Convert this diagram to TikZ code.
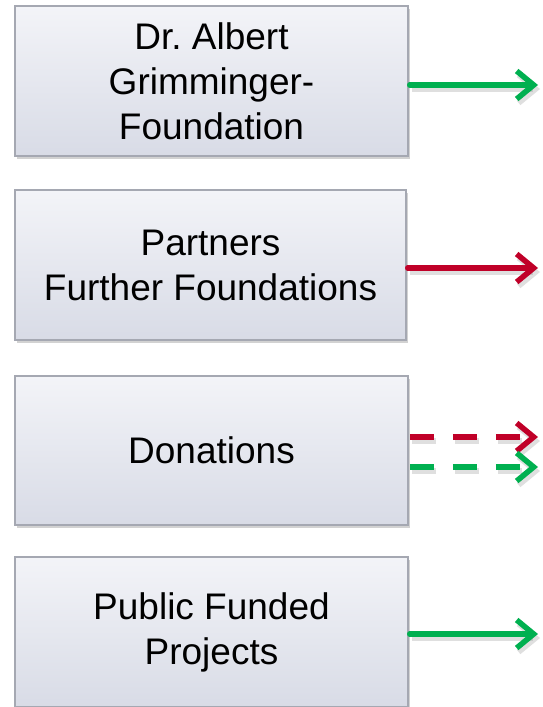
\documentclass[tikz,border=0pt]{standalone}
\usepackage{fontspec}
\setmainfont{Liberation Sans}
\frenchspacing
\usetikzlibrary{arrows.meta,shadows}
\definecolor{boxtop}{RGB}{243,244,248}
\definecolor{boxbot}{RGB}{216,219,230}
\definecolor{boxline}{RGB}{165,168,178}
\definecolor{arrgreen}{RGB}{0,176,80}
\definecolor{arrred}{RGB}{192,0,40}
\tikzset{
  fundbox/.style={draw=boxline, line width=1.5pt, top color=boxtop, bottom color=boxbot,
    minimum width=393pt, align=center, inner sep=0pt,
    font=\fontsize{37}{45}\selectfont,
    drop shadow={shadow xshift=2pt, shadow yshift=-3pt, opacity=0.35, fill=gray}},
  arr/.style={line width=5.5pt, -{Straight Barb[length=17pt,width=28pt,line width=5.5pt]}, line cap=round, line join=round},
  arrshadow/.style={line width=5.5pt, draw=gray, opacity=0.25, -{Straight Barb[length=17pt,width=28pt,line width=5.5pt]}, line join=round},
  dashpat/.style={dash pattern=on 24pt off 19pt}
}
\begin{document}
\begin{tikzpicture}[x=1pt,y=-1pt]
\useasboundingbox (0,0) rectangle (543,707);
\fill[white] (0,0) rectangle (543,707);
\node[fundbox, minimum height=150pt] (b1) at (211.5,81) {Dr. Albert\\Grimminger-\\Foundation};
\node[fundbox, minimum height=150pt, minimum width=391pt] (b2) at (210.5,265) {Partners\\Further Foundations};
\node[fundbox, minimum height=149pt] (b3) at (211.5,450.5) {Donations};
\node[fundbox, minimum height=150pt] (b4) at (211.5,632) {Public Funded\\Projects};
\coordinate (e1) at (538,85);
\coordinate (e2) at (538,268);
\coordinate (e3) at (538,437);
\coordinate (e4) at (538,467);
\coordinate (e5) at (538,634);
% shadows of arrows
\begin{scope}[transform canvas={xshift=2pt,yshift=-4pt}]
\draw[arrshadow] ([xshift=1pt]b1.east |- e1) -- (e1);
\draw[arrshadow] ([xshift=1pt]b2.east |- e2) -- (e2);
\draw[arrshadow,dashpat] ([xshift=1pt]b3.east |- e3) -- (e3);
\draw[arrshadow,dashpat] ([xshift=1pt]b3.east |- e4) -- (e4);
\draw[arrshadow] ([xshift=1pt]b4.east |- e5) -- (e5);
\end{scope}
\draw[arr, draw=arrgreen] ([xshift=1pt]b1.east |- e1) -- (e1);
\draw[arr, draw=arrred] ([xshift=1pt]b2.east |- e2) -- (e2);
\draw[arr, draw=arrred, dashpat, line cap=butt] ([xshift=1pt]b3.east |- e3) -- (e3);
\draw[arr, draw=arrgreen, dashpat, line cap=butt] ([xshift=1pt]b3.east |- e4) -- (e4);
\draw[arr, draw=arrgreen] ([xshift=1pt]b4.east |- e5) -- (e5);
\end{tikzpicture}
\end{document}
